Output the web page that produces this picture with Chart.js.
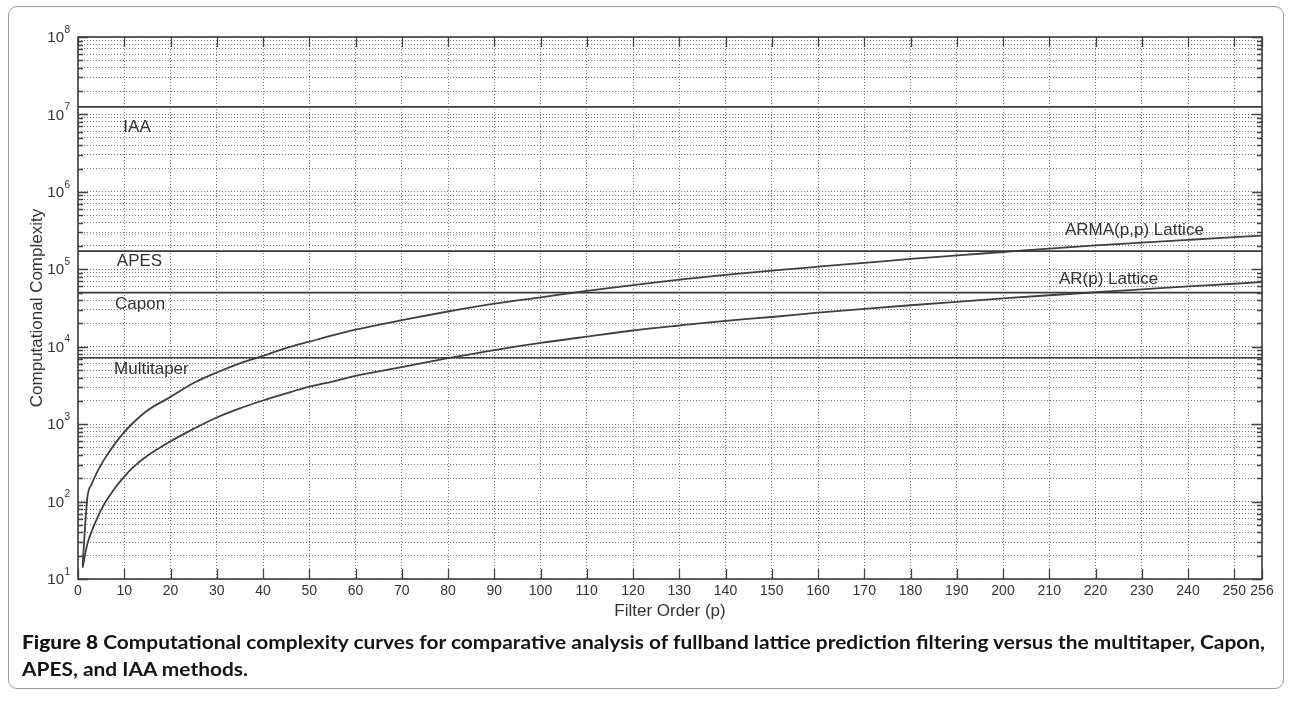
<!DOCTYPE html>
<html>
<head>
<meta charset="utf-8">
<script src="https://cdn.jsdelivr.net/npm/chart.js@4.4.1/dist/chart.umd.min.js"></script>
<style>
  html, body { margin: 0; padding: 0; background: #fff; }
  body { width: 1292px; height: 701px; position: relative; overflow: hidden; }
  #card { position: absolute; left: 8px; top: 6px; width: 1276px; height: 683px;
          border: 1px solid #9c9c9c; border-radius: 9px; box-sizing: border-box; }
  #plot { position: absolute; left: 0; top: 0; }
  #caption { position: absolute; left: 22px; top: 629px; font-family: Lato, "Open Sans", sans-serif;
             font-weight: 700; font-size: 18px; line-height: 27px; color: #151515; }
  #caption .line { white-space: nowrap; transform-origin: 0 0; }
</style>
</head>
<body>
<div id="card"></div>
<canvas id="plot" width="1292" height="640"></canvas>
<div id="caption">
  <div class="line" id="cap1"><b>Figure 8</b> Computational complexity curves for comparative analysis of fullband lattice prediction filtering versus the multitaper, Capon,</div>
  <div class="line" id="cap2">APES, and IAA methods.</div>
</div>
<script>
// Filter order p at which the lattice costs are sampled
const orderP = [1, 2, 3, 4, 5, 6, 8, 10, 12, 15, 20, 25, 30, 35, 40, 45, 50, 55, 60,
  70, 80, 90, 100, 110, 120, 130, 140, 150, 160, 170, 180, 190, 200, 210, 220, 230, 240, 250, 256];

// AR(p) lattice cost
const arLattice = [14, 28, 42, 58, 78, 100, 150, 210, 280, 390, 600, 870, 1220, 1600, 2020, 2500, 3050, 3550, 4200,
  5450, 7100, 9050, 11200, 13500, 16200, 18800, 21600, 24200, 27500, 30800, 34300, 38000, 42000, 46200, 50500, 55000, 60000, 65000, 68500];

// ARMA(p,p) lattice cost
const armaLattice = [15, 110, 170, 232, 300, 375, 560, 790, 1050, 1500, 2250, 3400, 4650, 6100, 7600, 9600, 11600, 14000, 16600,
  22000, 28500, 36000, 43500, 52500, 62500, 73500, 84500, 96000, 108000, 121000, 136000, 151000, 167000, 185000, 203000, 221000, 240000, 260000, 272000];

// Fixed-cost spectral methods (independent of p)
const methodNames = ['IAA', 'APES', 'Capon', 'Multitaper'];
const methodCost = [1.25e7, 1.72e5, 5.0e4, 7.2e3];
const greenReference = 2.8e5;

// Axis ticks
const xTickValues = [0, 10, 20, 30, 40, 50, 60, 70, 80, 90, 100, 110, 120, 130, 140, 150, 160, 170, 180, 190, 200, 210, 220, 230, 240, 250, 256];
const yTickPowers = [1, 2, 3, 4, 5, 6, 7, 8];
const yMinorSteps = [2, 3, 4, 5, 6, 7, 8, 9];

// In-plot text annotations (data coordinates, left-aligned)
const noteTexts = ['IAA', 'APES', 'Capon', 'Multitaper', 'ARMA(p,p) Lattice', 'AR(p) Lattice'];
const noteX = [9.8, 8.4, 8.0, 7.8, 213.4, 212.1];
const noteY = [6.9e6, 1.28e5, 3.56e4, 5.15e3, 3.21e5, 7.5e4];

const yGridValues = [];
yTickPowers.forEach((k, i) => {
  yGridValues.push(Math.pow(10, k));
  if (i < yTickPowers.length - 1) yMinorSteps.forEach(m => yGridValues.push(m * Math.pow(10, k)));
});

const FONT = '"Liberation Sans", Arial, Helvetica, sans-serif';
const INK = '#333333';
const GRID = '#7a7a7a';

const curve = (vals) => orderP.map((p, i) => ({ x: p, y: vals[i] }));
const flat = (v) => [{ x: 0, y: v }, { x: 256, y: v }];

const datasets = [];
datasets.push({ data: flat(greenReference), borderColor: '#86dc86', borderWidth: 1.2, borderDash: [1, 2] });
methodCost.forEach(v => datasets.push({ data: flat(v), borderColor: '#3a3a3a', borderWidth: 1.7 }));
datasets.push({ data: curve(armaLattice), borderColor: '#404040', borderWidth: 1.8, cubicInterpolationMode: 'monotone' });
datasets.push({ data: curve(arLattice), borderColor: '#404040', borderWidth: 1.8, cubicInterpolationMode: 'monotone' });

const matlabAxes = {
  id: 'matlabAxes',
  afterDatasetsDraw(chart) {
    const { ctx, chartArea: a, scales: { x, y } } = chart;
    ctx.save();
    // inward tick marks
    ctx.strokeStyle = '#444';
    ctx.lineWidth = 1.3;
    ctx.beginPath();
    xTickValues.forEach(v => {
      const px = Math.round(x.getPixelForValue(v)) + 0.5;
      ctx.moveTo(px, a.bottom); ctx.lineTo(px, a.bottom - 10);
      ctx.moveTo(px, a.top); ctx.lineTo(px, a.top + 10);
    });
    yGridValues.forEach(v => {
      const py = Math.round(y.getPixelForValue(v)) + 0.5;
      const major = Math.abs(Math.log10(v) - Math.round(Math.log10(v))) < 1e-9;
      const len = major ? 10 : 5;
      ctx.moveTo(a.left, py); ctx.lineTo(a.left + len, py);
      ctx.moveTo(a.right, py); ctx.lineTo(a.right - len, py);
    });
    ctx.stroke();
    // axes box
    ctx.strokeStyle = '#3c3c3c';
    ctx.lineWidth = 1.6;
    ctx.strokeRect(a.left, a.top, a.right - a.left, a.bottom - a.top);
    // y tick labels as 10 with superscript exponent
    ctx.fillStyle = INK;
    yTickPowers.forEach(k => {
      const py = y.getPixelForValue(Math.pow(10, k));
      ctx.font = '15px ' + FONT;
      ctx.textAlign = 'right';
      ctx.textBaseline = 'middle';
      ctx.fillText('10', a.left - 14, py + 1);
      ctx.font = '10px ' + FONT;
      ctx.textAlign = 'left';
      ctx.fillText(String(k), a.left - 13.5, py - 7);
    });
    // annotations
    ctx.font = '17px ' + FONT;
    ctx.textAlign = 'left';
    ctx.textBaseline = 'middle';
    noteTexts.forEach((t, i) => {
      ctx.fillText(t, x.getPixelForValue(noteX[i]), y.getPixelForValue(noteY[i]));
    });
    ctx.restore();
  }
};

new Chart(document.getElementById('plot').getContext('2d'), {
  type: 'line',
  data: { datasets },
  plugins: [matlabAxes],
  options: {
    responsive: false,
    animation: false,
    devicePixelRatio: 1,
    layout: { padding: { top: 37, right: 30, left: 0, bottom: 0 } },
    elements: { point: { radius: 0 } },
    plugins: { legend: { display: false }, tooltip: { enabled: false } },
    scales: {
      x: {
        type: 'linear', min: 0, max: 256,
        afterBuildTicks: s => { s.ticks = xTickValues.map(v => ({ value: v })); },
        afterFit: s => { s.height = 61; },
        grid: { color: GRID, lineWidth: 1, drawTicks: false },
        border: { display: false, dash: [1, 2] },
        ticks: { autoSkip: false, maxRotation: 0, padding: 4, color: INK, font: { family: FONT, size: 14 } },
        title: { display: true, text: 'Filter Order (p)', color: INK, font: { family: FONT, size: 17 }, padding: { top: 0, bottom: 18 } }
      },
      y: {
        type: 'logarithmic', min: 10, max: 1e8,
        afterBuildTicks: s => { s.ticks = yGridValues.map(v => ({ value: v })); },
        afterFit: s => { s.width = 78; },
        grid: { color: GRID, lineWidth: 1, drawTicks: false },
        border: { display: false, dash: [1, 2] },
        ticks: { display: false, autoSkip: false },
        title: { display: true, text: 'Computational Complexity', color: INK, font: { family: FONT, size: 17 }, padding: { top: 27, bottom: 0 } }
      }
    }
  }
});

// fit the caption's first line to the card width
(function fitCaption() {
  const l1 = document.getElementById('cap1');
  const l2 = document.getElementById('cap2');
  const w = l1.getBoundingClientRect().width;
  const target = 1243;
  const s = target / w;
  l1.style.transform = 'scaleX(' + s + ')';
  l2.style.transform = 'scaleX(' + s + ')';
})();
</script>
</body>
</html>
